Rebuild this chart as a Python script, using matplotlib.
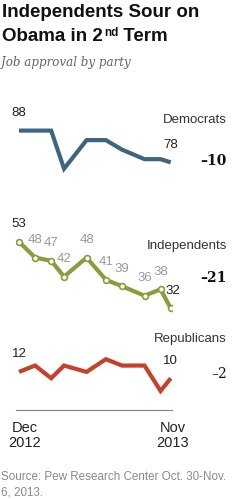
import datetime as dt
import matplotlib
matplotlib.use("Agg")
import matplotlib.pyplot as plt
import matplotlib.dates as mdates

# survey midpoints, Dec 2012 - Nov 2013
survey_dates = ["2012-12-07", "2013-01-11", "2013-02-15", "2013-03-15", "2013-05-03",
                "2013-06-14", "2013-07-19", "2013-09-06", "2013-10-11", "2013-11-02"]
democrats = [88, 88, 88, 76, 85, 85, 82, 79, 79, 78]
independents = [53, 48, 47, 42, 48, 41, 39, 36, 38, 32]
republicans = [12, 14, 10, 14, 12, 16, 14, 14, 6, 10]
series_names = ["Democrats", "Independents", "Republicans"]
tick_labels = ["Dec\n2012", "Nov\n2013"]

title_1 = "Independents Sour on"
title_2a, title_2b, title_2c = "Obama in 2", "nd", " Term"
subtitle = "Job approval by party"
source = "Source: Pew Research Center Oct. 30-Nov.\n6, 2013."

col_dem = "#3e6580"
col_ind = "#8c9b3b"
col_rep = "#c6402a"

W, H = 240, 499
fig = plt.figure(figsize=(W / 100, H / 100), dpi=100)
sans = "Liberation Sans"


def fx(px):
    return px / W


def fy(py):
    return 1 - py / H


x = mdates.date2num([dt.datetime.strptime(d, "%Y-%m-%d") for d in survey_dates])

# axes: baseline (y=0) at 410 px, 3.175 px per point
ax = fig.add_axes([fx(16), fy(410), fx(172) - fx(16), 317.5 / H])
ax.set_xlim(x[0] - 6.5, x[-1] + 2.8)
ax.set_ylim(0, 100)
for s in ["top", "left", "right"]:
    ax.spines[s].set_visible(False)
ax.spines["bottom"].set_color("#8a8a8a")
ax.spines["bottom"].set_linewidth(0.9)
ax.set_xticks([])
ax.set_yticks([])
ax.patch.set_alpha(0)

ax.plot(x, democrats, color=col_dem, lw=3, solid_joinstyle="miter", solid_capstyle="butt")
ax.plot(x, independents, color=col_ind, lw=3, solid_joinstyle="miter", solid_capstyle="butt",
        marker="o", ms=4.2, mfc="white", mec=col_ind, mew=1.2)
ax.plot(x, republicans, color=col_rep, lw=3, solid_joinstyle="miter", solid_capstyle="butt")


def label(xv, yv, txt, color="#222222", dx=0):
    ax.annotate(txt, (xv, yv), xytext=(dx, 17.5), textcoords="offset pixels",
                ha="center", va="center", fontsize=9.5, family=sans, color=color)


# first / last labels
label(x[0], democrats[0], str(democrats[0]))
label(x[-1], democrats[-1], str(democrats[-1]))
label(x[0], republicans[0], str(republicans[0]))
label(x[-1], republicans[-1], str(republicans[-1]))
for i, v in enumerate(independents):
    if i == 0:
        label(x[i], v, str(v))
    elif i == len(independents) - 1:
        label(x[i], v, str(v), dx=2)
    else:
        label(x[i], v, str(v), color="#9a9a9a")

# x axis labels
for xv, t, dx in zip([x[0], x[-1]], tick_labels, [6, 2]):
    ax.annotate(t, (xv, 0), xycoords=("data", "axes fraction"), xytext=(dx, -11),
                textcoords="offset pixels", ha="center", va="top", fontsize=10.5,
                family=sans, color="#222222", linespacing=1.1)

# series names and change
for name, vals, base_name, base_chg, wt in zip(
        series_names, [democrats, independents, republicans],
        [123, 249.5, 341.7], [165, 281.7, 377.7], ["bold", "bold", "normal"]):
    fig.text(fx(227), fy(base_name), name, ha="right", va="baseline",
             fontsize=9.5, family=sans, color="#333333")
    chg = vals[-1] - vals[0]
    fig.text(fx(227), fy(base_chg), ("–" if chg < 0 else "+") + str(abs(chg)),
             ha="right", va="baseline", fontsize=10, family="DejaVu Serif",
             weight=wt, color="#111111")

# title
fig.text(fx(2.5), fy(17), title_1, fontsize=13.5, weight="bold", family=sans,
         va="baseline", ha="left", color="#111111")
t2 = fig.text(fx(2.5), fy(41), title_2a, fontsize=13.5, weight="bold", family=sans,
              va="baseline", ha="left", color="#111111")
fig.canvas.draw()
r = fig.canvas.get_renderer()
bb = t2.get_window_extent(r)
sup = fig.text(bb.x1 / W + 0.003, fy(36), title_2b, fontsize=8.5, weight="bold",
               family=sans, va="baseline", ha="left", color="#111111")
bb2 = sup.get_window_extent(r)
fig.text(bb2.x1 / W, fy(41), title_2c, fontsize=13.5, weight="bold", family=sans,
         va="baseline", ha="left", color="#111111")

fig.text(fx(1), fy(66), subtitle, fontsize=8.6, style="italic", family="DejaVu Serif",
         va="baseline", ha="left", color="#666666")

fig.text(fx(1), fy(495.5), source, fontsize=8.4, family=sans, va="baseline", ha="left",
         color="#8a8a8a", linespacing=1.4)

fig.savefig("out.png", dpi=100)
